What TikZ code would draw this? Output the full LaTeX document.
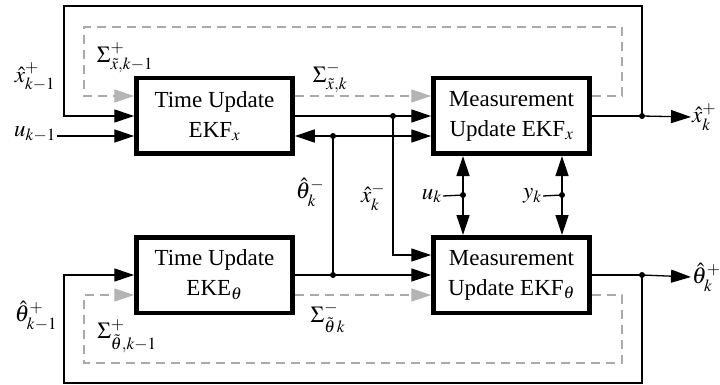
\documentclass[tikz,border=0pt]{standalone}
\usepackage{mathptmx}
\usepackage[no-math]{fontspec}
\setmainfont{Liberation Serif}
\usetikzlibrary{arrows.meta,calc,backgrounds}
\definecolor{dgray}{HTML}{AAAAAA}
\definecolor{lgray}{HTML}{B4B4B4}
\begin{document}
\begin{tikzpicture}[x=1pt,y=-1pt,
  every node/.style={font=\fontsize{23}{30}\selectfont},
  blk/.style={draw, line width=4.5pt, minimum width=156pt, minimum height=75.5pt, align=center, inner sep=0pt},
  ln/.style={line width=1.3pt},
  arr/.style={ln, -{Triangle[length=20pt,width=13pt]}},
  darr/.style={ln, {Triangle[length=20pt,width=13pt]}-{Triangle[length=20pt,width=13pt]}},
  dsh/.style={line width=1.3pt, draw=dgray, dash pattern=on 9pt off 6pt},
  garr/.style={dsh, -{Triangle[length=20pt,width=13pt,color=lgray]}},
  dotn/.style={circle, fill, inner sep=0pt, minimum size=6pt},
  lbl/.style={inner sep=1pt}
]
\useasboundingbox (0,0) rectangle (720,385);
% blocks
\node[blk] (TUx) at (214.5,116) {Time Update\\EKF$_x$};
\node[blk] (MUx) at (511.5,116) {Measurement\\Update EKF$_x$};
\node[blk] (TUt) at (214.5,275) {Time Update\\EKE$_\theta$};
\node[blk] (MUt) at (511.5,275) {Measurement\\Update EKF$_\theta$};
% labels
\node[lbl] (lx) at (35,77) {$\hat{x}^+_{k-1}$};
\node[lbl] (lu) at (35,134) {$u_{k-1}$};
\node[lbl] (lt) at (36,316) {$\hat{\theta}^+_{k-1}$};
\node[lbl, anchor=west] (xo) at (691,117) {$\hat{x}^+_k$};
\node[lbl, anchor=west] (to) at (691,277) {$\hat{\theta}^+_k$};
\node[lbl] (s1) at (125,58) {$\Sigma^+_{\tilde{x},k-1}$};
\node[lbl] (s2) at (330,78) {$\Sigma^-_{\tilde{x},k}$};
\node[lbl] (s3) at (328,318) {$\Sigma^-_{\tilde{\theta}\,k}$};
\node[lbl] (s4) at (127,336) {$\Sigma^+_{\tilde{\theta},k-1}$};
\node[lbl] (lth) at (310,192) {$\hat{\theta}^-_k$};
\node[lbl] (lxm) at (373,197) {$\hat{x}^-_k$};
\node[lbl, anchor=east] (ul) at (443,196) {$u_k$};
\node[lbl, anchor=east] (yl) at (543,196) {$y_k$};
% dots
\node[dotn] (xdot) at (642,116) {};
\node[dotn] (tdot) at (642,275) {};
\node[dotn] (xm) at (393,116) {};
\node[dotn] (tm) at (333,275) {};
\node[dotn] (tm2) at (333,136) {};
\node[dotn] (ud) at (463,195) {};
\node[dotn] (yd) at (562,195) {};
\coordinate (ui) at ($(TUx.west)+(0,20)$);
\begin{scope}[on background layer]
% dashed covariance loops
\draw[garr] ($(MUx.east)+(0,-20)$) -- (622,96) -- (622,27) -- (84,27) -- (84,96) -- ($(TUx.west)+(0,-20)$);
\draw[garr] ($(TUx.east)+(0,-20)$) -- ($(MUx.west)+(0,-20)$);
\draw[garr] ($(MUt.east)+(0,20)$) -- (622,295) -- (622,363) -- (84,363) -- (84,295) -- ($(TUt.west)+(0,20)$);
\draw[garr] ($(TUt.east)+(0,20)$) -- ($(MUt.west)+(0,20)$);
% state loop
\draw[ln] (MUx.east) -- (xdot.center);
\draw[arr] (xdot.center) -- (xo.west);
\draw[arr] (xdot.center) -- (642,6) -- (64,6) -- (64,116) -- (TUx.west);
\draw[arr] (ui -| lu.east) -- (ui);
% parameter loop
\draw[ln] (MUt.east) -- (tdot.center);
\draw[arr] (tdot.center) -- (to.west);
\draw[arr] (tdot.center) -- (642,383) -- (64,383) -- (64,275) -- (TUt.west);
% cross links
\draw[arr] (TUx.east) -- (MUx.west);
\draw[arr] (xm.center) -- (393,255) -- ($(MUt.west)+(0,-20)$);
\draw[arr] (TUt.east) -- (MUt.west);
\draw[ln] (tm.center) -- (tm2.center);
\draw[darr] ($(TUx.east)+(0,20)$) -- ($(MUx.west)+(0,20)$);
% measurement inputs
\draw[ln] (ul.east) -- (ud.center);
\draw[arr] (ud.center) -- (ud.center |- MUx.south);
\draw[arr] (ud.center) -- (ud.center |- MUt.north);
\draw[ln] (yl.east) -- (yd.center);
\draw[arr] (yd.center) -- (yd.center |- MUx.south);
\draw[arr] (yd.center) -- (yd.center |- MUt.north);
\end{scope}
\end{tikzpicture}
\end{document}
